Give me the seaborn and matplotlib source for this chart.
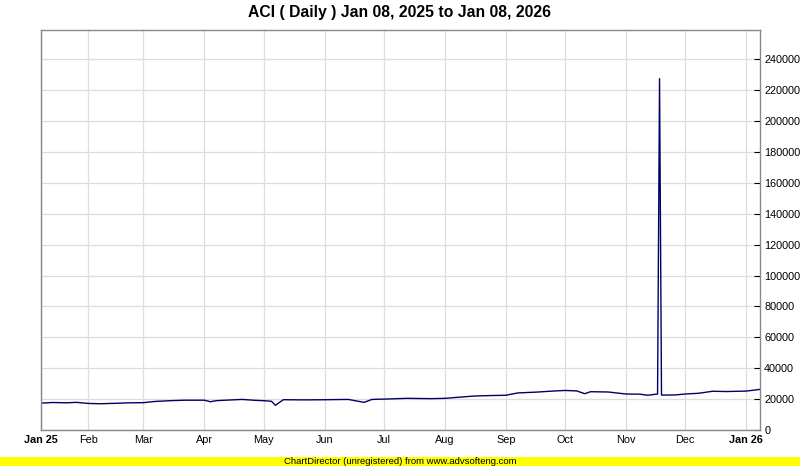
import pandas as pd
import numpy as np
import matplotlib.pyplot as plt
import seaborn as sns

# Values (weekly-ish samples, plus the single-day spike)
dates = [
    '2025-01-08', '2025-01-14', '2025-01-21', '2025-01-26', '2025-02-01',
    '2025-02-07', '2025-02-15', '2025-02-22', '2025-03-01', '2025-03-07',
    '2025-03-15', '2025-03-22', '2025-04-01', '2025-04-04', '2025-04-07',
    '2025-04-20', '2025-04-27', '2025-05-01', '2025-05-05', '2025-05-07',
    '2025-05-11', '2025-05-22', '2025-06-01', '2025-06-13', '2025-06-21',
    '2025-06-25', '2025-07-01', '2025-07-13', '2025-07-25', '2025-08-01',
    '2025-08-09', '2025-08-16', '2025-08-24', '2025-09-01', '2025-09-07',
    '2025-09-16', '2025-09-26', '2025-10-01', '2025-10-07', '2025-10-11',
    '2025-10-14', '2025-10-23', '2025-11-01', '2025-11-08', '2025-11-12',
    '2025-11-17', '2025-11-18', '2025-11-19', '2025-11-26', '2025-12-01',
    '2025-12-08', '2025-12-15', '2025-12-22', '2026-01-01', '2026-01-08',
]
values = [
    17400, 17800, 17600, 17900, 17200,
    17000, 17300, 17600, 17700, 18500,
    19000, 19300, 19300, 18300, 19000,
    19800, 19200, 19000, 18600, 16000,
    19600, 19500, 19600, 19800, 17900,
    19800, 20000, 20500, 20300, 20500,
    21300, 22000, 22300, 22500, 24000,
    24500, 25300, 25600, 25300, 23500,
    24800, 24600, 23300, 23200, 22500,
    23300, 227500, 22600, 22700, 23300,
    23800, 25100, 24900, 25200, 26300,
]

tick_dates = ['2025-01-08', '2025-02-01', '2025-03-01', '2025-04-01', '2025-05-01',
              '2025-06-01', '2025-07-01', '2025-08-01', '2025-09-01', '2025-10-01',
              '2025-11-01', '2025-12-01', '2026-01-01']
tick_labels = ['Jan 25', 'Feb', 'Mar', 'Apr', 'May', 'Jun', 'Jul', 'Aug',
               'Sep', 'Oct', 'Nov', 'Dec', 'Jan 26']
y_ticks = [0, 20000, 40000, 60000, 80000, 100000, 120000, 140000,
           160000, 180000, 200000, 220000, 240000]

title = 'ACI ( Daily ) Jan 08, 2025 to Jan 08, 2026'
footer = 'ChartDirector (unregistered) from www.advsofteng.com'

sns.set_theme(style='white')
plt.rcParams['font.family'] = ['Liberation Sans', 'DejaVu Sans']

df = pd.DataFrame({'date': pd.to_datetime(dates), 'value': values})

fig = plt.figure(figsize=(8, 4.66), dpi=100)
ax = fig.add_axes([41 / 800, 1 - 430 / 466, 719 / 800, 400 / 466])

sns.lineplot(data=df, x='date', y='value', ax=ax, color='#000066', linewidth=1.0)

ax.set_xlim(pd.Timestamp(dates[0]), pd.Timestamp(dates[-1]))
ax.set_ylim(0, 259000)

ax.set_xticks(pd.to_datetime(tick_dates))
ax.set_xticklabels(tick_labels)
for lbl in ax.get_xticklabels():
    if lbl.get_text().startswith('Jan'):
        lbl.set_fontweight('bold')
ax.set_yticks(y_ticks)
ax.set_yticklabels([str(v) for v in y_ticks])
ax.yaxis.tick_right()

ax.tick_params(axis='x', direction='out', length=2, width=0.8, color='#808080',
               labelsize=7.8, labelcolor='black', pad=1.5)
ax.tick_params(axis='y', direction='in', length=4, width=0.8, color='black',
               labelsize=7.8, labelcolor='black', pad=3, right=True, left=False)

ax.grid(True, color='#dddddd', linewidth=0.9)
ax.set_axisbelow(True)
for side in ['left', 'right', 'top', 'bottom']:
    ax.spines[side].set_color('#888888')
    ax.spines[side].set_linewidth(1)
ax.set_xlabel('')
ax.set_ylabel('')

fig.text(0.5, 1 - 12 / 466, title, ha='center', va='center', fontsize=11.3,
         fontweight='bold', color='black')

# yellow footer bar
fig.patches.append(plt.Rectangle((0, 0), 1, 9 / 466, transform=fig.transFigure,
                                 facecolor='#ffff00', edgecolor='none', zorder=0))
fig.text(0.5, 4.5 / 466, footer, ha='center', va='center', fontsize=6.8, color='black')

fig.savefig('out.png', dpi=100)
